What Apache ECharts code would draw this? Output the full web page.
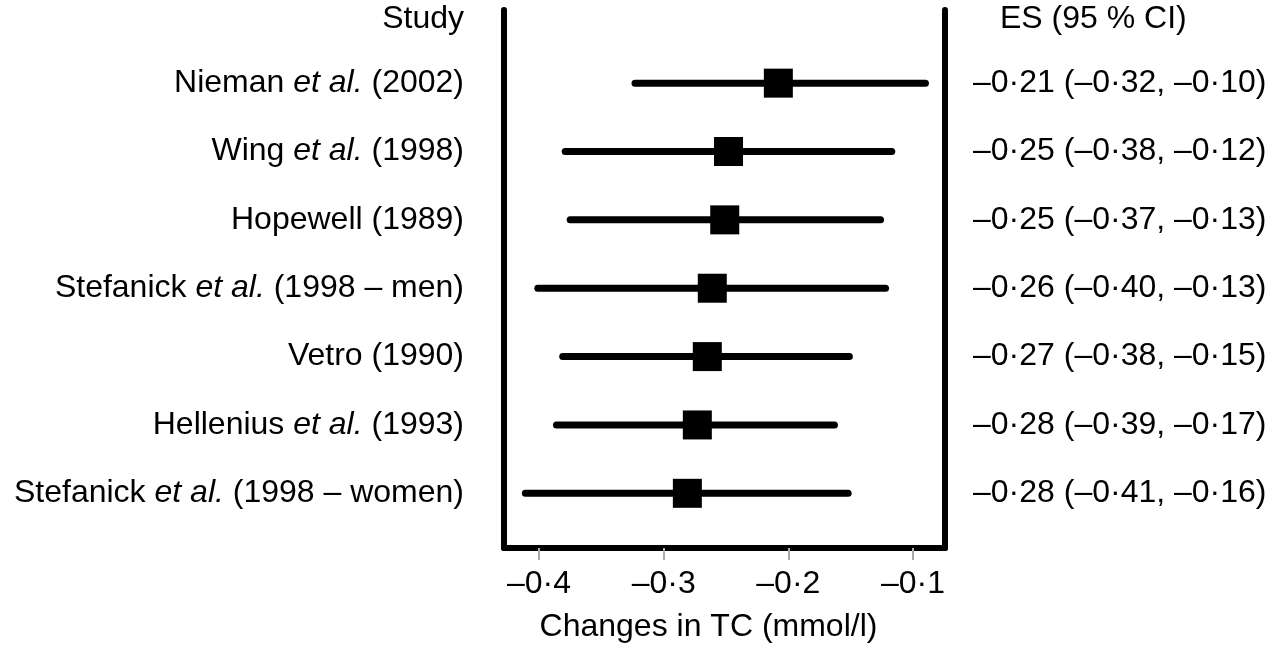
<!DOCTYPE html>
<html>
<head>
<meta charset="utf-8">
<script src="https://cdn.jsdelivr.net/npm/echarts@6/dist/echarts.min.js"></script>
<style>html,body{margin:0;padding:0;background:#fff;}#chart{width:1274px;height:650px;}</style>
</head>
<body>
<div id="chart"></div>
<script>
// Column headers
const studyHeader = 'Study';
const esHeader = 'ES (95 % CI)';
// Studies (top to bottom)
const studies = [
  'Nieman et al. (2002)',
  'Wing et al. (1998)',
  'Hopewell (1989)',
  'Stefanick et al. (1998 – men)',
  'Vetro (1990)',
  'Hellenius et al. (1993)',
  'Stefanick et al. (1998 – women)'
];
// Printed effect sizes and 95% CI
const esPrinted     = [-0.21, -0.25, -0.25, -0.26, -0.27, -0.28, -0.28];
const ciLowPrinted  = [-0.32, -0.38, -0.37, -0.40, -0.38, -0.39, -0.41];
const ciHighPrinted = [-0.10, -0.12, -0.13, -0.13, -0.15, -0.17, -0.16];
// Mark positions as drawn in the figure
const esDrawn     = [-0.208, -0.248, -0.251, -0.261, -0.265, -0.273, -0.281];
const ciLowDrawn  = [-0.323, -0.379, -0.375, -0.401, -0.381, -0.386, -0.411];
const ciHighDrawn = [-0.090, -0.117, -0.126, -0.122, -0.151, -0.163, -0.152];
// X axis ticks
const xTicks = [-0.4, -0.3, -0.2, -0.1];
const xName = 'Changes in TC (mmol/l)';

const FONT = '"Liberation Sans", Arial, sans-serif';
function fmt(v, d) {
  const s = Math.abs(v).toFixed(d).replace('.', '\u00B7');
  return (v < 0 ? '\u2013' : '') + s;
}
const rowIdx = studies.map((_, i) => i + 1);
const esText = studies.map((_, i) =>
  fmt(esPrinted[i], 2) + ' (' + fmt(ciLowPrinted[i], 2) + ', ' + fmt(ciHighPrinted[i], 2) + ')');

function studyLabel(v) {
  const i = Math.round(v);
  if (i === 0) return '{h|' + studyHeader + '}';
  const s = studies[i - 1];
  const k = s.indexOf('et al.');
  if (k < 0) return '{n|' + s + '}';
  return '{n|' + s.slice(0, k) + '}{i|et al.}{n|' + s.slice(k + 6) + '}';
}
function esLabel(v) {
  const i = Math.round(v);
  if (i === 0) return '{h|' + esHeader + '}';
  return '{n|' + esText[i - 1] + '}';
}

const chart = echarts.init(document.getElementById('chart'));
const txt = { fontSize: 32, fontFamily: FONT, color: '#000' };
const yBase = {
  type: 'value', inverse: true, min: -0.07, max: 7.8,
  splitLine: { show: false },
  axisTick: { show: false },
  axisLine: { show: true, onZero: false, lineStyle: { color: '#000', width: 6, cap: 'round' } }
};
chart.setOption({
  animation: false,
  backgroundColor: '#fff',
  textStyle: { fontFamily: FONT },
  grid: { left: 504, right: 329, top: 10, bottom: 102, outerBoundsMode: 'none' },
  xAxis: {
    type: 'value', min: -0.4281, max: -0.0743,
    splitLine: { show: false },
    axisLine: { show: true, onZero: false, lineStyle: { color: '#000', width: 6 } },
    axisTick: { show: true, customValues: xTicks, length: 12, lineStyle: { color: '#aaa', width: 2 } },
    axisLabel: { customValues: xTicks, margin: 20, fontSize: 32, fontFamily: FONT, color: '#000',
      formatter: v => fmt(v, 1) },
    name: xName, nameLocation: 'middle', nameGap: 63,
    nameTextStyle: { fontSize: 32, fontFamily: FONT, color: '#000', padding: [0, 32, 0, 0] }
  },
  yAxis: [
    Object.assign({}, yBase, {
      position: 'left',
      axisLabel: { customValues: [0].concat(rowIdx), margin: 40, align: 'right', formatter: studyLabel,
        rich: { n: Object.assign({}, txt), i: Object.assign({ fontStyle: 'italic' }, txt),
                h: Object.assign({ padding: [8, 0, 0, 0] }, txt) } }
    }),
    Object.assign({}, yBase, {
      position: 'right',
      axisLabel: { customValues: [0].concat(rowIdx), margin: 28, align: 'left', formatter: esLabel,
        rich: { n: Object.assign({}, txt), h: Object.assign({ padding: [8, 0, 0, 27] }, txt) } }
    })
  ],
  series: [
    {
      type: 'custom',
      data: rowIdx.map((r, i) => [ciLowDrawn[i], ciHighDrawn[i], r]),
      renderItem: function (params, api) {
        const p1 = api.coord([api.value(0), api.value(2)]);
        const p2 = api.coord([api.value(1), api.value(2)]);
        return {
          type: 'line',
          shape: { x1: p1[0], y1: p1[1], x2: p2[0], y2: p2[1] },
          style: { stroke: '#000', lineWidth: 7, lineCap: 'round' }
        };
      },
      encode: { x: [0, 1], y: 2 },
      clip: false,
      silent: true
    },
    {
      type: 'scatter',
      data: rowIdx.map((r, i) => [esDrawn[i], r]),
      symbol: 'rect',
      symbolSize: 29,
      itemStyle: { color: '#000', opacity: 1 },
      silent: true
    }
  ]
});
</script>
</body>
</html>
